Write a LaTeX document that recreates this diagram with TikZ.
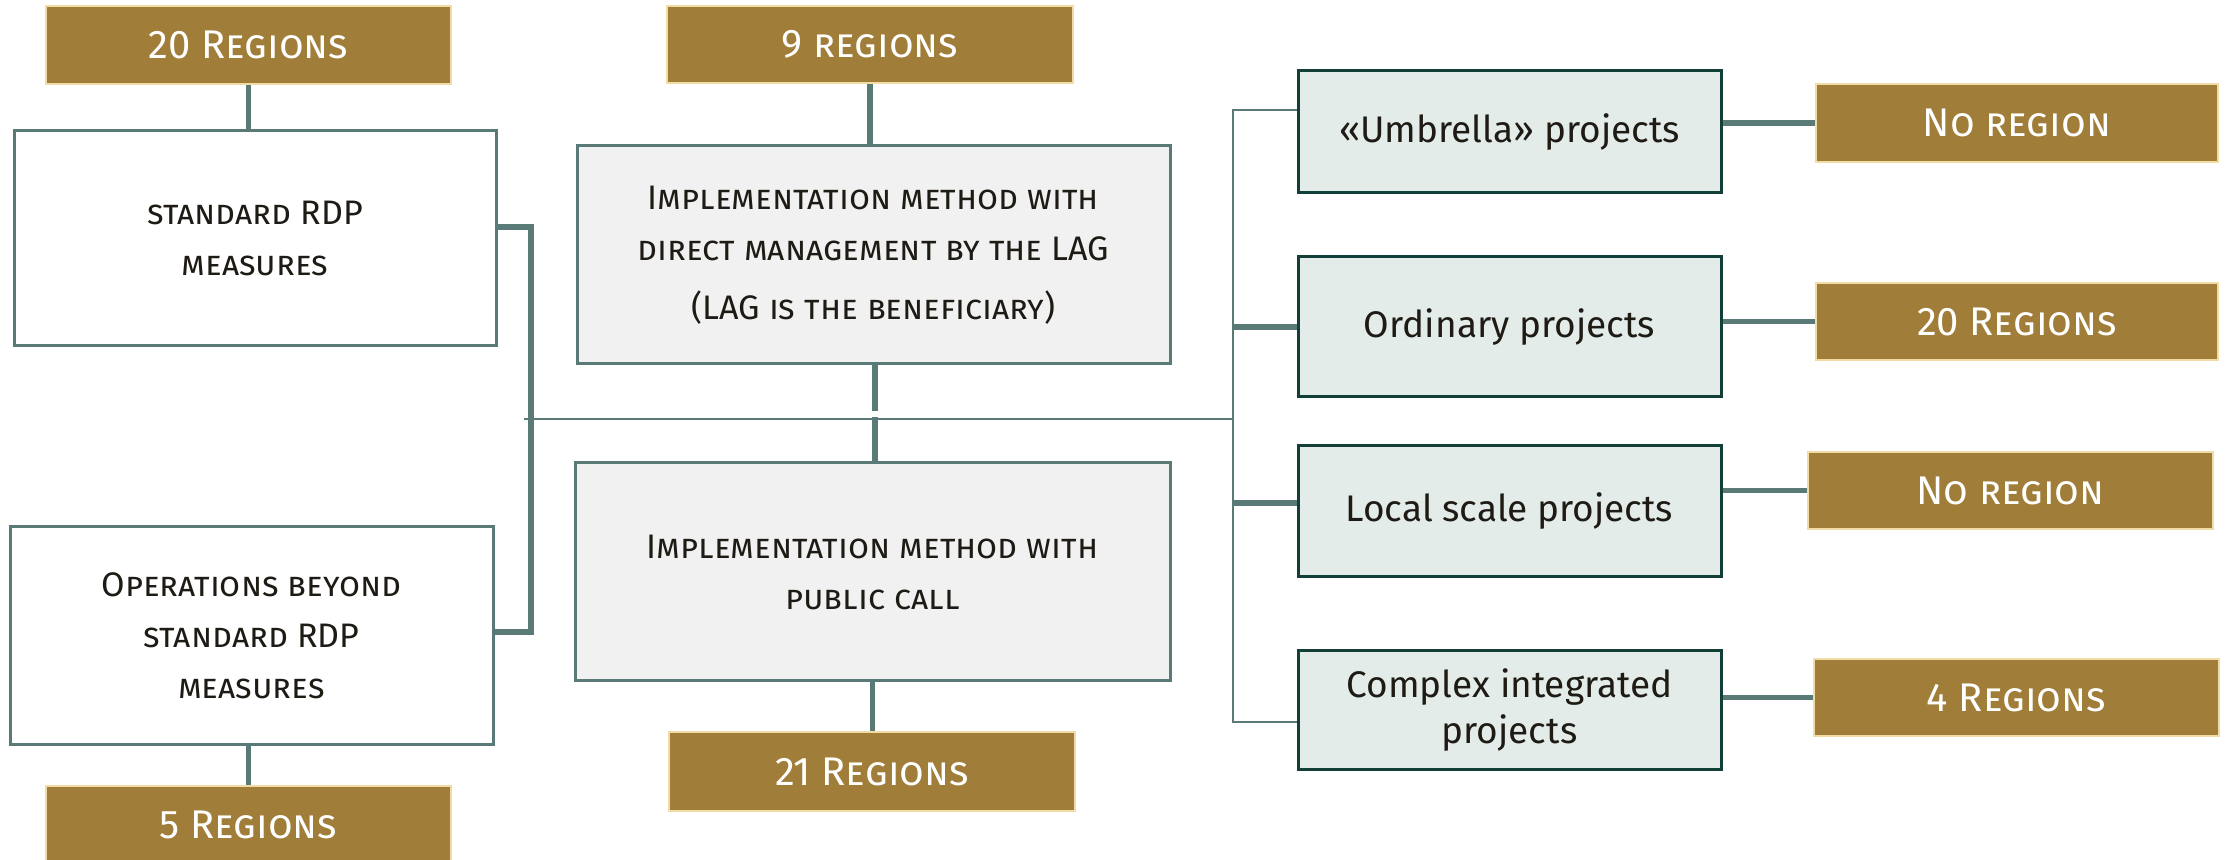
\documentclass[tikz,border=0pt]{standalone}
\usepackage{fontspec}
\setmainfont{Fira Sans}
\definecolor{goldfill}{HTML}{A07D38}
\definecolor{goldline}{HTML}{F2DCA6}
\definecolor{tealline}{HTML}{5A7A78}
\definecolor{projfill}{HTML}{E4ECE9}
\definecolor{projline}{HTML}{123F38}
\definecolor{greyfill}{HTML}{F1F1F1}
\definecolor{ink}{HTML}{1E1A14}
\tikzset{
  px/.style 2 args={minimum width=#1*0.5pt, minimum height=#2*0.5pt},
  goldbox/.style={draw=goldline, line width=1.2pt, fill=goldfill, text=white,
    font=\fontsize{20}{24}\selectfont\scshape, inner sep=0pt},
  plainbox/.style={draw=tealline, line width=1.5pt, fill=white, text=ink,
    align=center, inner sep=0pt, font=\fontsize{17}{25.5}\selectfont\scshape},
  greybox/.style={plainbox, fill=greyfill},
  projbox/.style={draw=projline, line width=1.5pt, fill=projfill, text=ink,
    align=center, inner sep=0pt, font=\fontsize{18.5}{23}\selectfont},
  thickc/.style={draw=tealline, line width=2.6pt},
  thinc/.style={draw=tealline, line width=1.3pt},
}
\begin{document}
\begin{tikzpicture}[x=0.5pt,y=-0.5pt]
\useasboundingbox (0,0) rectangle (2228,860);
% left column
\node[goldbox, px={405}{78}] (g1) at (248.5,45) {20 Regions};
\node[plainbox, px={482}{215}] (std) at (255,238.5) {standard RDP\\measures};
\node[plainbox, px={483}{217}] (ops) at (251.5,635.5) {Operations beyond\\standard RDP\\measures};
\node[goldbox, px={405}{78}] (g5) at (248.5,825) {5 Regions};
% centre column
\node[goldbox, px={406}{77}] (g2) at (870,44.5) {9 regions};
\node[greybox, px={593}{218}] (gt) at (873.5,255) {Implementation method with\\direct management by the LAG\\[4pt](LAG is the beneficiary)};
\node[greybox, px={595}{218}] (gb) at (872.5,572) {Implementation method with\\public call};
\node[goldbox, px={406}{79}] (g21) at (872,771.5) {21 Regions};
% right column
\node[projbox, px={423}{122}] (p1) at (1509.5,132) {«Umbrella» projects};
\node[projbox, px={423}{140}] (p2) at (1509.5,327) {Ordinary projects};
\node[projbox, px={423}{131}] (p3) at (1509.5,511.5) {Local scale projects};
\node[projbox, px={423}{118}] (p4) at (1509.5,710) {Complex integrated\\projects};
\node[goldbox, px={402}{78}] (r1) at (2017,123) {No region};
\node[goldbox, px={402}{77}] (r2) at (2017,321.5) {20 Regions};
\node[goldbox, px={405}{77}] (r3) at (2010.5,490.5) {No region};
\node[goldbox, px={405}{77}] (r4) at (2016.5,697.5) {4 Regions};
% junction coordinates
\coordinate (lbt) at (531,227);
\coordinate (lbb) at (531,632);
\coordinate (hl) at (524,419);
\coordinate (rt) at (1233,110);
\coordinate (rb) at (1233,722);
\coordinate (hr) at (1233,419);
\coordinate (gap1) at (875,411);
\coordinate (gap2) at (875,417);
% left connectors
\draw[thickc] (g1.south) -- (g1.south |- std.north);
\draw[thickc] (g5.north |- ops.south) -- (g5.north);
\draw[thickc] (std.east |- lbt) -- (lbt) -- (lbb) -- (ops.east |- lbb);
% main horizontal
\draw[thinc] (hl) -- (hr);
% centre connectors
\draw[thickc] (g2.south) -- (g2.south |- gt.north);
\draw[thickc] (gap1 |- gt.south) -- (gap1);
\draw[thickc] (gap2) -- (gap2 |- gb.north);
\draw[thickc] (gb.south) -- (gb.south |- g21.north);
% right trunk
\draw[thinc] (p1.west |- rt) -- (rt) -- (rb) -- (p4.west |- rb);
\draw[thickc] (rt |- p2.west) -- (p2.west);
\draw[thickc] ([yshift=4.25pt]p3.west -| rt) -- ([yshift=4.25pt]p3.west);
% right to gold
\draw[thickc] (p1.east |- r1.west) -- (r1.west);
\draw[thickc] (p2.east |- r2.west) -- (r2.west);
\draw[thickc] (p3.east |- r3.west) -- (r3.west);
\draw[thickc] (p4.east |- r4.west) -- (r4.west);
\end{tikzpicture}
\end{document}
